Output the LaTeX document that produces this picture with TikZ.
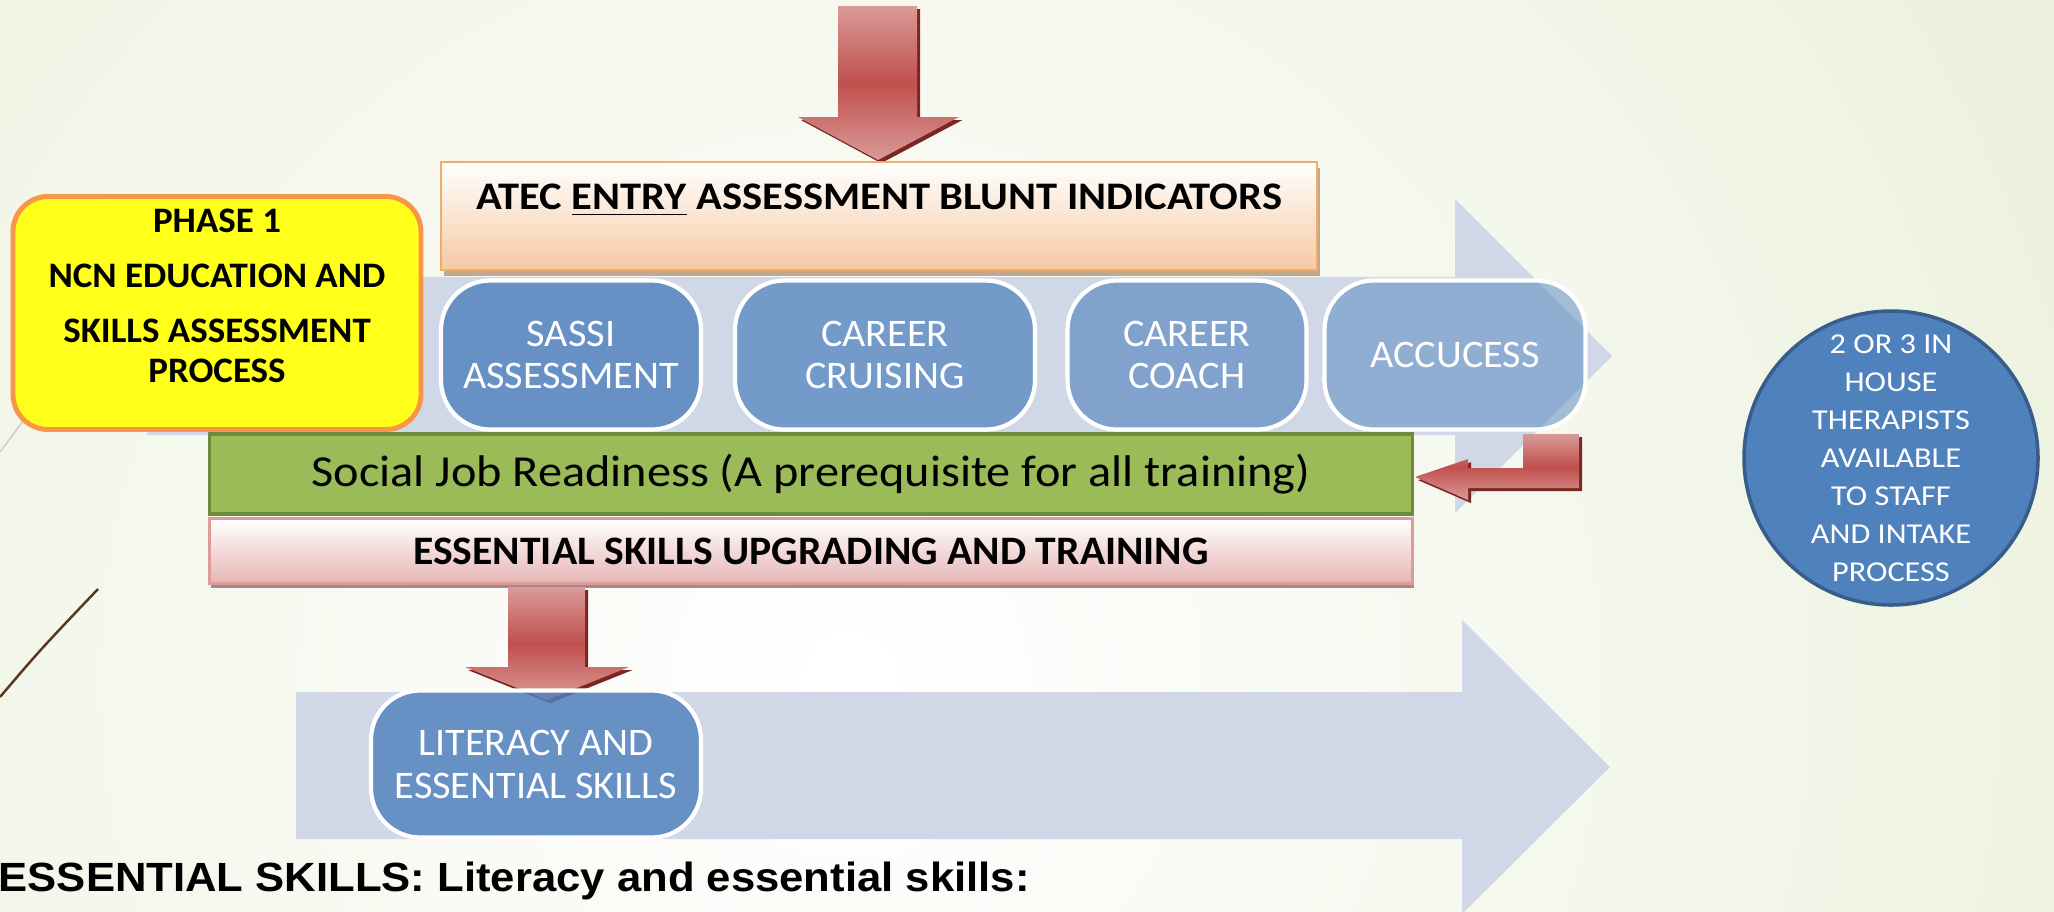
\documentclass[tikz,border=0pt]{standalone}
\usepackage{fontspec}
\setmainfont{Carlito}[FakeStretch=1.03]
\newfontfamily\widefont{Carlito}[FakeStretch=1.09]
\newfontfamily\circlefont{Carlito}[FakeStretch=1.12]
\newfontfamily\arialfont{Liberation Sans}[FakeStretch=1.07]
\usepackage{tikz}
\usetikzlibrary{positioning,shadows}

\definecolor{bggreen}{HTML}{DCE6C2}
\definecolor{bandblue}{HTML}{D0D8E8}
\definecolor{boxblue}{HTML}{4F81BD}
\definecolor{circleedge}{HTML}{385D8A}
\definecolor{arrowred}{HTML}{C0504D}
\definecolor{arrowlight}{HTML}{DA9A98}
\definecolor{arrowdark}{HTML}{7A2624}
\definecolor{peach}{HTML}{F5C9A2}
\definecolor{peachedge}{HTML}{F0AC6A}
\definecolor{pinkbox}{HTML}{E6B5B4}
\definecolor{pinkedge}{HTML}{DC9C9A}
\definecolor{readygreen}{HTML}{9BBB59}
\definecolor{readyedge}{HTML}{71893F}
\definecolor{phaseyellow}{HTML}{FFFF19}
\definecolor{phaseedge}{HTML}{F79646}

\tikzset{
  stepbox/.style={rectangle, rounded corners=14pt, draw=white, line width=1.2pt,
    fill=boxblue, text=white, text opacity=1, align=center,
    minimum height=149*0.01cm, inner sep=0pt,
    font=\fontsize{11.1}{12.2}\selectfont},
  redblock/.style={top color=arrowlight, bottom color=arrowlight, middle color=arrowred,
    drop shadow={shadow xshift=0.9pt, shadow yshift=-0.9pt, fill=arrowdark, opacity=1}},
}

\begin{document}
\begin{tikzpicture}[x=0.01cm, y=-0.01cm]
\useasboundingbox (0,0) rectangle (2054,911);
\clip (0,0) rectangle (2054,911);

\shade[inner color=white, outer color=bggreen] (850,680) circle (2500);

\draw[line width=0.5pt, color=black!18] (0,452) -- (120,290);
\draw[line width=0.7pt, color=black!55!brown] (0,697) .. controls (40,650) .. (98,589);

\fill[bandblue] (147,277) -- (1455,277) -- (1455,199) -- (1612,356) -- (1455,513)
  -- (1455,435) -- (147,435) -- cycle;
\fill[bandblue] (296,692) -- (1462,692) -- (1462,620) -- (1610,767) -- (1462,914)
  -- (1462,839) -- (296,839) -- cycle;

\path[redblock] (838,6) -- (917,6) -- (917,117) -- (959,117) -- (878,160)
  -- (798,117) -- (838,117) -- cycle;

\node[rectangle, minimum width=876*0.01cm, minimum height=108*0.01cm,
  top color=white, bottom color=peach, draw=peachedge, line width=0.8pt,
  drop shadow={shadow xshift=0.8pt, shadow yshift=-1.6pt, fill=black!25!brown!55, opacity=1}]
  (atec) at (879,216) {};
\node[font=\widefont\bfseries\fontsize{11.1}{13}\selectfont] (atectext) at (879,200)
  {ATEC \underline{ENTRY} ASSESSMENT BLUNT INDICATORS};

\node[rectangle, rounded corners=10pt, minimum width=408*0.01cm, minimum height=233*0.01cm,
  fill=phaseyellow, draw=phaseedge, line width=1.4pt] (phase) at (217,313) {};
\node[align=center, font=\bfseries\fontsize{10.2}{11.4}\selectfont] (phasetext) at (217,296)
  {PHASE 1\\[4.3pt] NCN EDUCATION AND\\[4.3pt] SKILLS ASSESSMENT\\ PROCESS};

\node[stepbox, fill opacity=0.81, minimum width=260*0.01cm] (sassi) at (571,355)
  {SASSI\\ ASSESSMENT};
\node[stepbox, fill opacity=0.71, minimum width=300*0.01cm] (cruising) at (885,355)
  {CAREER\\ CRUISING};
\node[stepbox, fill opacity=0.61, minimum width=239*0.01cm] (coach) at (1187,355)
  {CAREER\\ COACH};
\node[stepbox, fill opacity=0.49, minimum width=261*0.01cm] (accucess) at (1455,355)
  {ACCUCESS};

\node[rectangle, minimum width=1203*0.01cm, minimum height=80*0.01cm,
  fill=readygreen, draw=readyedge, line width=0.9pt,
  font=\widefont\fontsize{12.6}{14}\selectfont] (readiness) at (811,474)
  {Social Job Readiness (A prerequisite for all training)};

\node[rectangle, minimum width=1203*0.01cm, minimum height=65*0.01cm,
  top color=white, bottom color=pinkbox, draw=pinkedge, line width=0.8pt,
  drop shadow={shadow xshift=0.5pt, shadow yshift=-1.4pt, fill=black!20!pinkbox!60!gray, opacity=1},
  font=\bfseries\fontsize{11.5}{13}\selectfont] (upgrading) at (811,551)
  {ESSENTIAL SKILLS UPGRADING AND TRAINING};

\path[redblock] (1415,477) -- (1468,459) -- (1468,468) -- (1523,468) -- (1523,434)
  -- (1579,434) -- (1579,488) -- (1468,488) -- (1468,500) -- cycle;

\path[redblock] (508,587) -- (585,587) -- (585,667) -- (629,667) -- (547,700)
  -- (465,667) -- (508,667) -- cycle;

\node[stepbox, fill opacity=0.81, minimum width=330*0.01cm, minimum height=147*0.01cm]
  (literacy) at (536,764) {LITERACY AND\\ ESSENTIAL SKILLS};

\node[circle, minimum size=294*0.01cm, fill=boxblue, draw=circleedge, line width=1pt,
  text=white, align=center, inner sep=0pt,
  font=\circlefont\fontsize{8.2}{10.8}\selectfont] (therapists) at (1891,458)
  {2 OR 3 IN\\ HOUSE\\ THERAPISTS\\ AVAILABLE\\ TO STAFF\\ AND INTAKE\\ PROCESS};

\node[anchor=base west, inner sep=0pt, font=\arialfont\bfseries\fontsize{11.6}{13}\selectfont]
  (summary) at (-2,891) {ESSENTIAL SKILLS: Literacy and essential skills:};
\end{tikzpicture}
\end{document}
